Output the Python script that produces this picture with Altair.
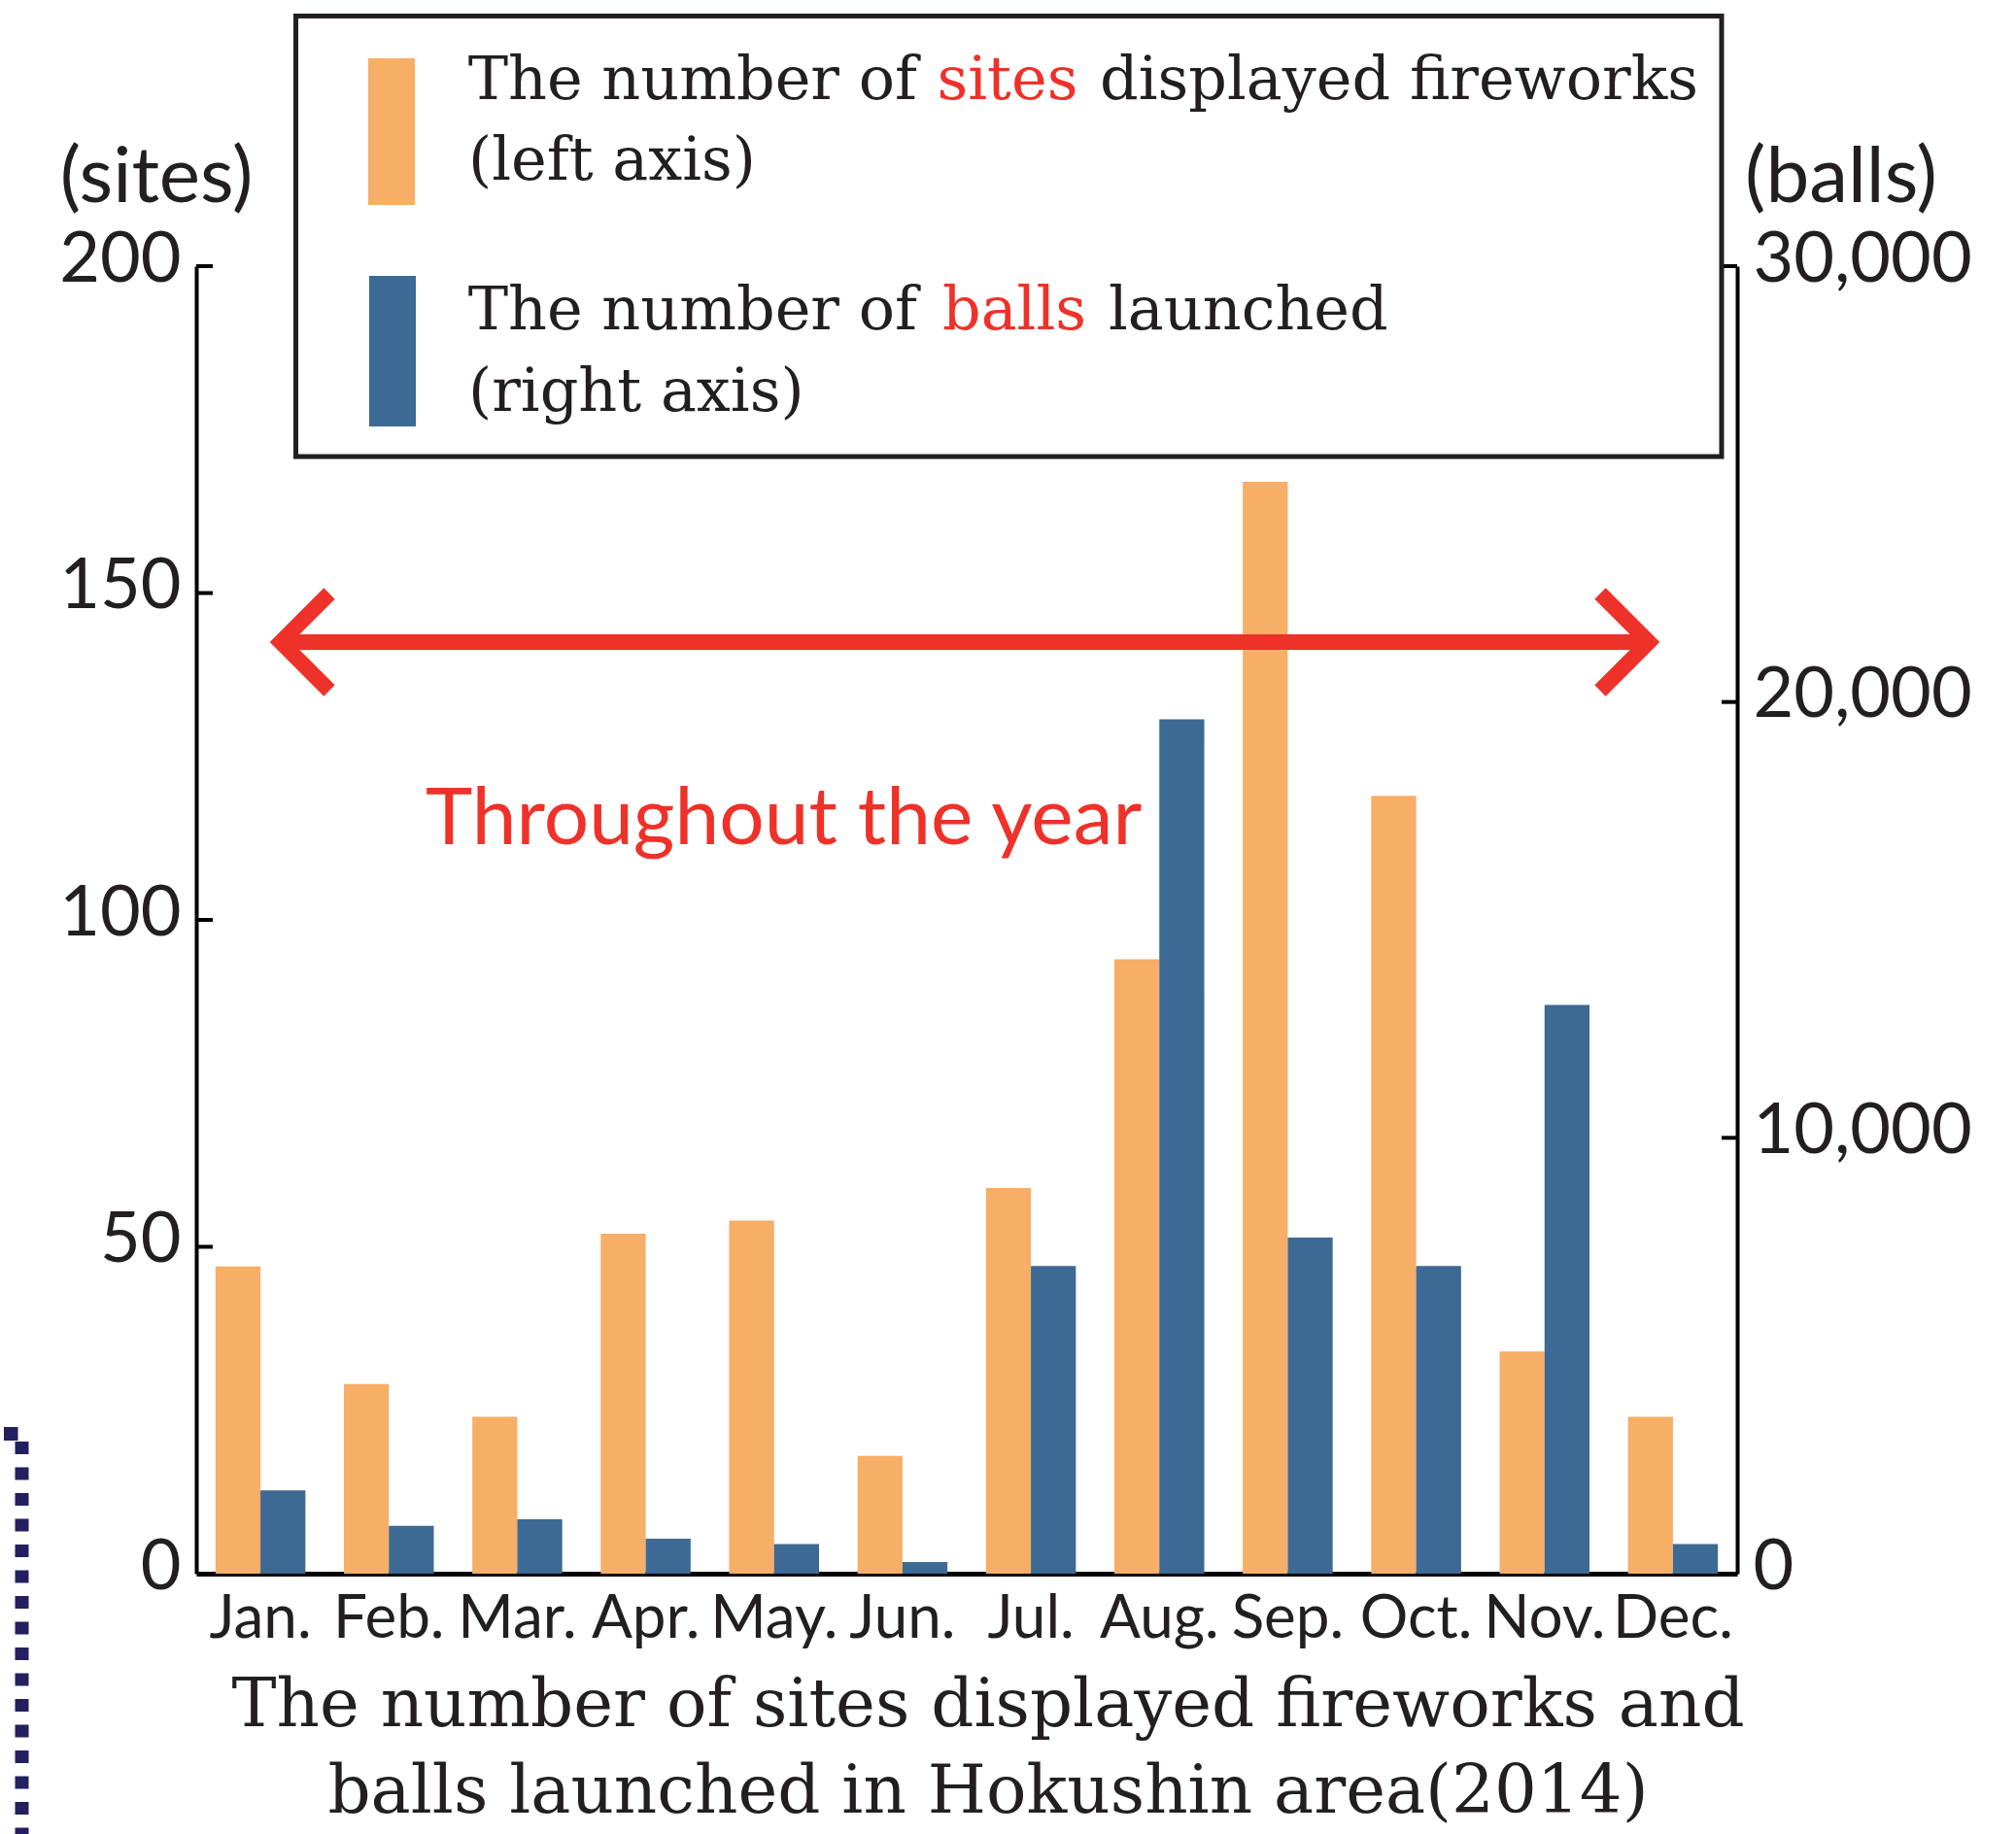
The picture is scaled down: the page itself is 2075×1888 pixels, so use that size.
import altair as alt
import pandas as pd

# ---------------- data ----------------
months = ["Jan.", "Feb.", "Mar.", "Apr.", "May.", "Jun.", "Jul.", "Aug.", "Sep.", "Oct.", "Nov.", "Dec."]
sites = [47, 29, 24, 52, 54, 18, 59, 94, 167, 119, 34, 24]
balls = [1910, 1100, 1250, 800, 680, 270, 7060, 19600, 7710, 7060, 13050, 680]
left_ticks = [50, 100, 150, 200]
right_ticks = [10000, 20000, 30000]
left_labels = [0, 50, 100, 150, 200]
right_labels = [0, 10000, 20000, 30000]
series_order = ["sites", "balls"]

title_lines = ["The number of sites displayed fireworks and",
               "balls launched in Hokushin area(2014)"]

# ---------------- style ----------------
ORANGE = "#F7AE66"
BLUE = "#3D6A94"
RED = "#EE3129"
INK = "#231F20"
NAVY = "#23205F"
SANS = "Lato"
SERIF = "DejaVu Serif"

W, H = 1586, 1346
PAD = {"left": 202, "top": 274, "right": 2075 - 202 - W, "bottom": 1888 - 274 - H}

df_sites = pd.DataFrame({"month": months, "value": sites, "series": "sites"})
df_balls = pd.DataFrame({"month": months, "value": balls, "series": "balls"})
one = pd.DataFrame({"a": [0]})

x_enc = alt.X(
    "month:N", sort=months,
    scale=alt.Scale(paddingInner=0.3, paddingOuter=0.15),
    axis=alt.Axis(title=None, labelAngle=0, ticks=False, domainWidth=5, domainColor="#000000",
                  labelFont=SANS, labelFontSize=62, labelColor=INK, labelPadding=16,
                  labelLimit=400, grid=False),
)
xoff = alt.XOffset("series:N", sort=series_order,
                   scale=alt.Scale(domain=series_order, paddingInner=0, paddingOuter=0))

left_scale = alt.Scale(domain=[0, 200], nice=False, zero=True)
right_scale = alt.Scale(domain=[0, 30000], nice=False, zero=True)


def left_axis():
    return alt.Axis(orient="left", title=None, values=left_labels, ticks=False,
                    domainWidth=4, domainColor="#000000", grid=False, labelLimit=400,
                    labelFont=SANS, labelFontSize=72, labelColor=INK, labelPadding=16,
                    labelOffset=-7)


def right_axis():
    return alt.Axis(orient="right", title=None, values=right_labels, ticks=False,
                    labelExpr="format(datum.value, ',')", labelLimit=400,
                    domainWidth=4, domainColor="#000000", grid=False,
                    labelFont=SANS, labelFontSize=72, labelColor=INK, labelPadding=16,
                    labelOffset=-7)


orange_bars = alt.Chart(df_sites).mark_bar(color=ORANGE).encode(
    x=x_enc, xOffset=xoff,
    y=alt.Y("value:Q", scale=left_scale, axis=left_axis()),
)
left_tick_rules = alt.Chart(pd.DataFrame({"value": left_ticks})).mark_rule(color="#000000", strokeWidth=4).encode(
    y=alt.Y("value:Q", scale=left_scale, axis=left_axis()),
    x=alt.value(0), x2=alt.value(17),
)
left_group = alt.layer(orange_bars, left_tick_rules)

blue_bars = alt.Chart(df_balls).mark_bar(color=BLUE).encode(
    x=x_enc, xOffset=xoff,
    y=alt.Y("value:Q", scale=right_scale, axis=right_axis()),
)
right_tick_rules = alt.Chart(pd.DataFrame({"value": right_ticks})).mark_rule(color="#000000", strokeWidth=4).encode(
    y=alt.Y("value:Q", scale=right_scale, axis=right_axis()),
    x=alt.value(W - 16), x2=alt.value(W),
)
right_group = alt.layer(blue_bars, right_tick_rules)

base = alt.Chart(one)


def txt(text, x, y, size, font=SANS, color=INK, align="left", baseline="alphabetic"):
    return base.mark_text(text=text, font=font, fontSize=size, color=color, align=align,
                          baseline=baseline).encode(x=alt.value(x), y=alt.value(y))


# axis unit labels
unit_left = txt("(sites)", -41, -90, 80, align="center", baseline="middle")
unit_right = txt("(balls)", 1693, -90, 80, align="center", baseline="middle")

# legend box
legend_box = base.mark_rect(fill="white", stroke=INK, strokeWidth=5).encode(
    x=alt.value(102.5), x2=alt.value(1570), y=alt.value(-257.5), y2=alt.value(196))
sw_orange = base.mark_rect(color=ORANGE).encode(
    x=alt.value(177), x2=alt.value(225), y=alt.value(-214), y2=alt.value(-63))
sw_blue = base.mark_rect(color=BLUE).encode(
    x=alt.value(178), x2=alt.value(226), y=alt.value(10), y2=alt.value(165))
LS = 62
leg = [
    txt("The number of", 742, -172, LS, font=SERIF, align="right"),
    txt("sites", 835, -172, LS, font=SERIF, color=RED, align="center"),
    txt("displayed fireworks", 930, -172, LS, font=SERIF),
    txt("(left axis)", 280, -89, LS, font=SERIF),
    txt("The number of", 742, 65, LS, font=SERIF, align="right"),
    txt("balls", 842, 65, LS, font=SERIF, color=RED, align="center"),
    txt("launched", 939, 65, LS, font=SERIF),
    txt("(right axis)", 280, 149, LS, font=SERIF),
]

# double arrow
shaft = base.mark_rule(color=RED, strokeWidth=16, strokeCap="butt").encode(
    x=alt.value(88), x2=alt.value(1495), y=alt.value(387))
head_l = base.mark_point(shape="M1,-1L0,0L1,1", size=10000, filled=False, strokeWidth=16,
                         color=RED, opacity=1, strokeJoin="miter", strokeCap="butt").encode(
    x=alt.value(87), y=alt.value(387))
head_r = base.mark_point(shape="M-1,-1L0,0L-1,1", size=10000, filled=False, strokeWidth=16,
                         color=RED, opacity=1, strokeJoin="miter", strokeCap="butt").encode(
    x=alt.value(1495), y=alt.value(387))
through = txt("Throughout the year", 236, 595, 82, color=RED)

# bottom title
t1 = txt(title_lines[0], 815, 1503, 69, font=SERIF, align="center")
t2 = txt(title_lines[1], 815, 1592, 69, font=SERIF, align="center")

# dotted border fragment at the left edge
dots = base.mark_rule(color=NAVY, strokeWidth=14, strokeDash=[13, 13.5], strokeCap="butt").encode(
    x=alt.value(-179.5), y=alt.value(1210), y2=alt.value(1614))
dot_corner = base.mark_rect(color=NAVY).encode(
    x=alt.value(-198), x2=alt.value(-183.5), y=alt.value(1195), y2=alt.value(1209))

chart = alt.layer(
    left_group, right_group,
    legend_box, sw_orange, sw_blue, *leg,
    shaft, head_l, head_r, through,
    unit_left, unit_right, t1, t2, dots, dot_corner,
).resolve_scale(y="independent").properties(
    width=W, height=H,
    padding=PAD,
    autosize=alt.AutoSizeParams(type="none"),
    background="white",
).configure_view(stroke=None)

chart.save("out.html", embed_options={"renderer": "svg", "actions": False})
